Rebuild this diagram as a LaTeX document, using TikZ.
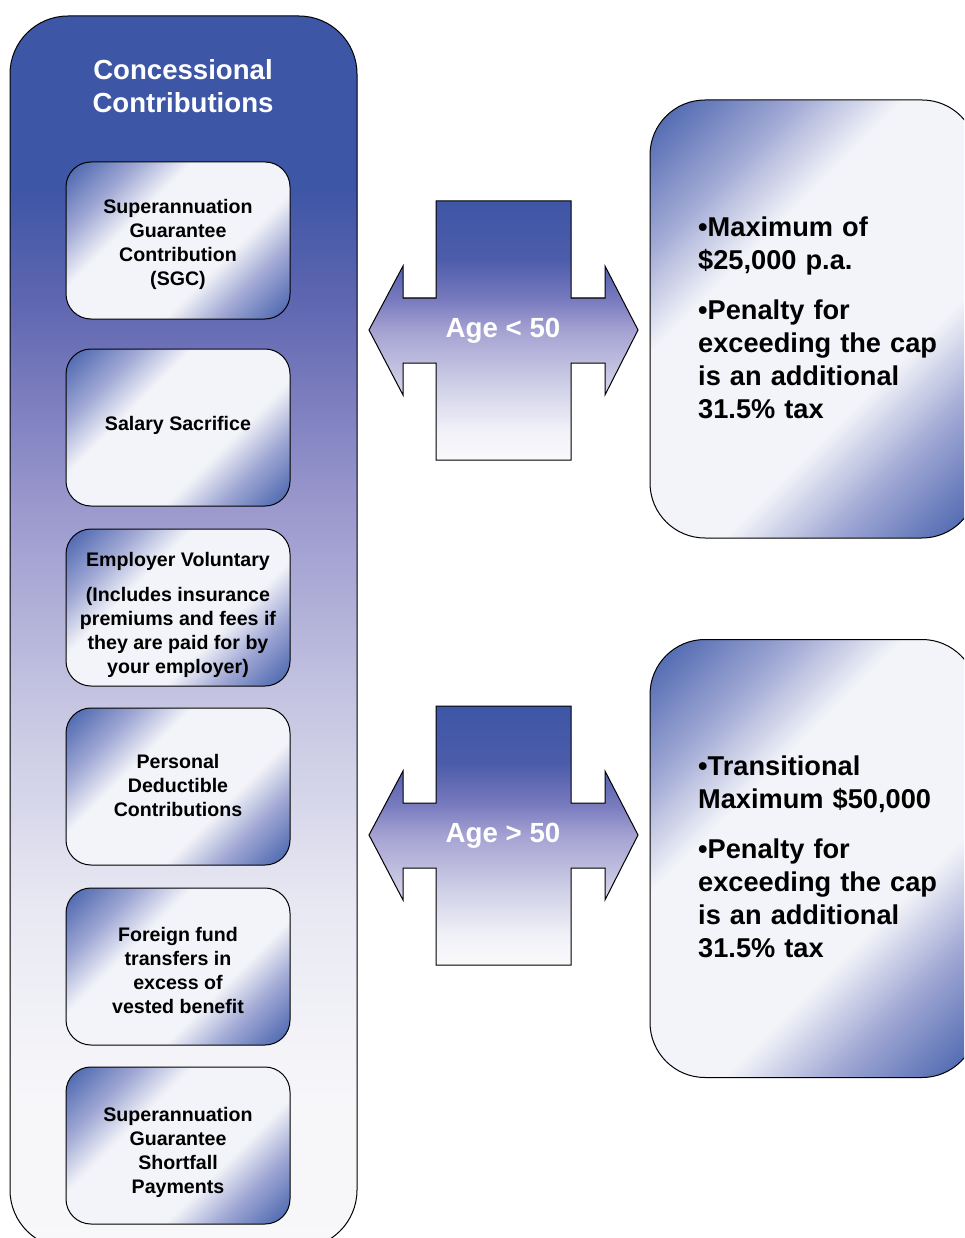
\documentclass[tikz,border=0pt]{standalone}
\usepackage{fontspec}
\setmainfont{Liberation Sans}
\definecolor{blueA}{RGB}{62,86,166}
\definecolor{blueD}{RGB}{68,96,172}
\definecolor{nw}{RGB}{250,250,252}
\definecolor{b1}{RGB}{247,247,250}
\definecolor{b2}{RGB}{232,232,243}
\definecolor{b3}{RGB}{198,198,226}
\definecolor{b4}{RGB}{155,153,206}
\definecolor{b5}{RGB}{98,104,178}
\definecolor{a1}{RGB}{240,240,248}
\definecolor{a2}{RGB}{205,205,230}
\definecolor{a3}{RGB}{165,162,210}
\definecolor{a4}{RGB}{120,122,190}
\definecolor{a5}{RGB}{76,92,170}
\definecolor{d1}{RGB}{160,168,212}
\definecolor{d2}{RGB}{243,244,249}
\pgfdeclareverticalshading{bigshade}{100bp}{color(0bp)=(nw); color(31bp)=(b1); color(39bp)=(b2); color(47bp)=(b3); color(55bp)=(b4); color(63bp)=(b5); color(68bp)=(blueA); color(100bp)=(blueA)}
\pgfdeclareverticalshading{arrowshade}{100bp}{color(0bp)=(nw); color(25bp)=(nw); color(31bp)=(a1); color(40bp)=(a2); color(50bp)=(a3); color(56bp)=(a4); color(64bp)=(a5); color(75bp)=(blueA); color(100bp)=(blueA)}
\pgfdeclarehorizontalshading{diagshade}{100bp}{color(0bp)=(blueD); color(15bp)=(blueD); color(28bp)=(d1); color(38bp)=(d2); color(62bp)=(d2); color(72bp)=(d1); color(85bp)=(blueD); color(100bp)=(blueD)}
\begin{document}
\begin{tikzpicture}[x=1pt,y=-1pt,
  outline/.style={draw=black, line width=1pt},
  bigbox/.style={outline, rounded corners=58pt, shading=bigshade, minimum width=347pt, minimum height=1232pt, inner sep=0pt},
  ibox/.style={outline, rounded corners=25pt, shading=diagshade, shading angle=-45, minimum width=224pt, minimum height=157pt, inner sep=0pt},
  itext/.style={align=center, font=\fontsize{19.6}{24}\selectfont\bfseries, text=black, inner sep=0pt},
  rbox/.style={outline, rounded corners=55pt, shading=diagshade, shading angle=-45, minimum width=327pt, minimum height=438pt, inner sep=0pt},
  rtext/.style={anchor=west, align=left, text width=262pt, font=\fontsize{27.2}{33}\selectfont\bfseries, inner sep=0pt, text=black},
  titletext/.style={align=center, font=\fontsize{27.6}{33}\selectfont\bfseries, text=white, inner sep=0pt},
  agetext/.style={font=\fontsize{27.7}{33}\selectfont\bfseries, text=white, inner sep=0pt},
  arrowshape/.style={outline, shading=arrowshade}]
\useasboundingbox (0,0) rectangle (964,1238);
\clip (0,0) rectangle (964,1238);
% left panel
\node[bigbox] (cc) at (183.5,632) {};
\node[titletext] (title) at (183,86) {Concessional\\Contributions};
\node[ibox] (sgc) at (178,240.5) {};
\node[itext] (sgc-t) at (178,244) {Superannuation\\Guarantee\\Contribution\\(SGC)};
\node[ibox] (ss) at (178,427.5) {};
\node[itext] (ss-t) at (178,425.5) {Salary Sacrifice};
\node[ibox] (ev) at (178,607.5) {};
\node[itext] (ev-t) at (178,614.5) {Employer Voluntary\\[11pt](Includes insurance\\premiums and fees if\\they are paid for by\\your employer)};
\node[ibox] (pd) at (178,786.5) {};
\node[itext] (pd-t) at (178,785.5) {Personal\\Deductible\\Contributions};
\node[ibox] (ff) at (178,966.5) {};
\node[itext] (ff-t) at (178,970) {Foreign fund\\transfers in\\excess of\\vested benefit};
\node[ibox] (sgs) at (178,1145.5) {};
\node[itext] (sgs-t) at (178,1152) {Superannuation\\Guarantee\\Shortfall\\Payments};
% arrows
\foreach \dy/\lab/\nm in {0/{Age < 50}/agea, 505/{Age > 50}/ageb}{
  \begin{scope}[shift={(0,\dy)}]
    \path[arrowshape] (436,201) -- (571,201) -- (571,298) -- (605,298) -- (605,266) -- (638,330)
      -- (605,395) -- (605,363) -- (571,363) -- (571,460) -- (436,460) -- (436,363)
      -- (403,363) -- (403,395) -- (369,330) -- (403,266) -- (403,298) -- (436,298) -- cycle;
    \node[agetext] (\nm) at (503,331) {\lab};
  \end{scope}
}
% right boxes
\node[rbox] (r1) at (813.5,319) {};
\node[rtext] (t1) at (698,318) {•Maximum of\\\$25,000 p.a.\\[17pt]•Penalty for\\exceeding the cap\\is an additional\\31.5\% tax};
\node[rbox] (r2) at (813.5,858.5) {};
\node[rtext] (t2) at (698,857) {•Transitional\\Maximum \$50,000\\[17pt]•Penalty for\\exceeding the cap\\is an additional\\31.5\% tax};
\end{tikzpicture}
\end{document}
